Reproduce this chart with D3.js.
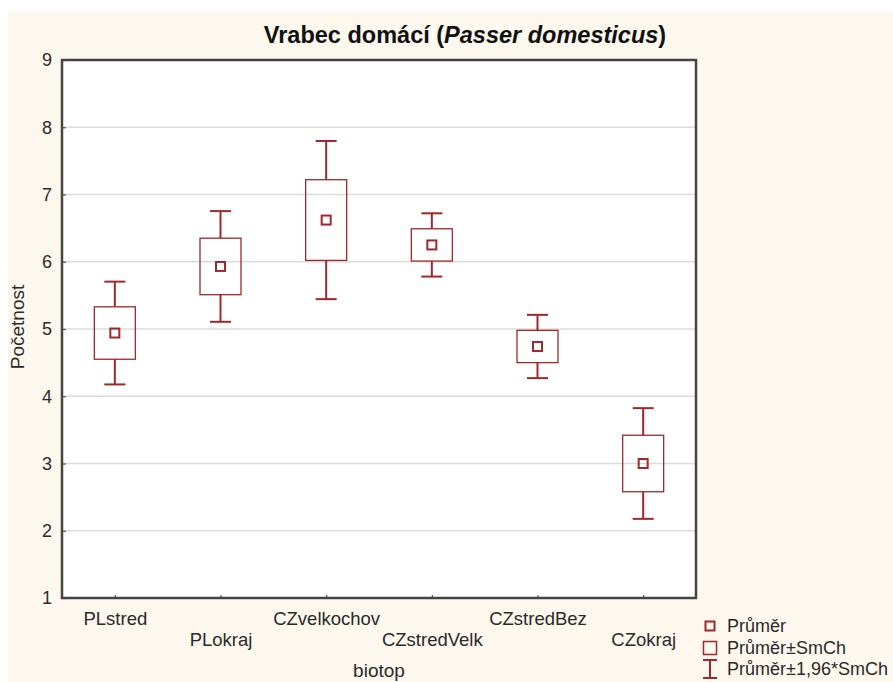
<!DOCTYPE html>
<html>
<head>
<meta charset="utf-8">
<script src="https://cdn.jsdelivr.net/npm/d3@7/dist/d3.min.js"></script>
<style>
  html, body { margin: 0; padding: 0; background: #ffffff; overflow: hidden; }
  svg { display: block; font-family: "Liberation Sans", Arial, sans-serif; }
</style>
</head>
<body>
<svg id="chart" width="893" height="682"></svg>
<script>
// Mean counts per habitat, with standard errors
const categories = ["PLstred", "PLokraj", "CZvelkochov", "CZstredVelk", "CZstredBez", "CZokraj"];
const means = [4.94, 5.93, 6.62, 6.25, 4.74, 3.00];
const stdErrors = [0.39, 0.42, 0.60, 0.24, 0.24, 0.42];
const yTicks = [1, 2, 3, 4, 5, 6, 7, 8, 9];
const legendLabels = ["Průměr", "Průměr±SmCh", "Průměr±1,96*SmCh"];

const W = 893, H = 682;
const margin = { left: 62, right: 696, top: 60, bottom: 598 };
const red = "#a0282c";
const textColor = "#2a2a2a";

const svg = d3.select("#chart");

// Page background
svg.append("rect").attr("x", 8).attr("y", 12).attr("width", W - 8).attr("height", H - 12)
  .attr("fill", "#fdf8ee");

const x = d3.scalePoint().domain(categories).range([margin.left, margin.right]).padding(0.5);
const y = d3.scaleLinear().domain([1, 9]).range([margin.bottom, margin.top]);

// Plot area
svg.append("rect")
  .attr("x", margin.left).attr("y", margin.top)
  .attr("width", margin.right - margin.left).attr("height", margin.bottom - margin.top)
  .attr("fill", "#ffffff");

// Horizontal grid lines
svg.append("g").selectAll("line").data(yTicks.slice(1, -1)).join("line")
  .attr("x1", margin.left).attr("x2", margin.right)
  .attr("y1", d => y(d)).attr("y2", d => y(d))
  .attr("stroke", "#dcdcdc").attr("stroke-width", 1.5);

// Y axis
const yAxis = svg.append("g").attr("transform", `translate(${margin.left},0)`)
  .call(d3.axisLeft(y).tickValues(yTicks).tickSize(-4).tickPadding(10).tickFormat(d3.format("d")));
yAxis.select(".domain").remove();
yAxis.selectAll(".tick line").attr("stroke", "#555").attr("stroke-width", 1.2);
yAxis.selectAll(".tick text").attr("font-size", 18).attr("fill", textColor)
  .attr("font-family", "Liberation Sans, Arial, sans-serif");

// X axis with staggered labels
const xAxis = svg.append("g").attr("transform", `translate(0,${margin.bottom})`)
  .call(d3.axisBottom(x).tickSize(-3).tickPadding(0));
xAxis.select(".domain").remove();
xAxis.selectAll(".tick line").attr("stroke", "#555").attr("stroke-width", 1.2);
xAxis.selectAll(".tick text")
  .attr("font-size", 18.5).attr("fill", textColor)
  .attr("font-family", "Liberation Sans, Arial, sans-serif")
  .attr("dy", null)
  .attr("y", (d, i) => i % 2 === 0 ? 27 : 48);

// Plot frame
svg.append("rect")
  .attr("x", margin.left).attr("y", margin.top)
  .attr("width", margin.right - margin.left).attr("height", margin.bottom - margin.top)
  .attr("fill", "none").attr("stroke", "#444").attr("stroke-width", 2.5);

// Boxes: mean ± SE, whiskers: mean ± 1.96*SE
const data = categories.map((c, i) => ({ c, m: means[i], se: stdErrors[i] }));
const g = svg.append("g");
const boxW = 41, capW = 21, meanS = 9;

const item = g.selectAll("g.item").data(data).join("g").attr("class", "item");
item.append("line")
  .attr("x1", d => x(d.c)).attr("x2", d => x(d.c))
  .attr("y1", d => y(d.m + 1.96 * d.se)).attr("y2", d => y(d.m + d.se))
  .attr("stroke", red).attr("stroke-width", 2);
item.append("line")
  .attr("x1", d => x(d.c)).attr("x2", d => x(d.c))
  .attr("y1", d => y(d.m - d.se)).attr("y2", d => y(d.m - 1.96 * d.se))
  .attr("stroke", red).attr("stroke-width", 2);
item.append("line")
  .attr("x1", d => x(d.c) - capW / 2).attr("x2", d => x(d.c) + capW / 2)
  .attr("y1", d => y(d.m + 1.96 * d.se)).attr("y2", d => y(d.m + 1.96 * d.se))
  .attr("stroke", red).attr("stroke-width", 2);
item.append("line")
  .attr("x1", d => x(d.c) - capW / 2).attr("x2", d => x(d.c) + capW / 2)
  .attr("y1", d => y(d.m - 1.96 * d.se)).attr("y2", d => y(d.m - 1.96 * d.se))
  .attr("stroke", red).attr("stroke-width", 2);
item.append("rect")
  .attr("x", d => x(d.c) - boxW / 2).attr("width", boxW)
  .attr("y", d => y(d.m + d.se)).attr("height", d => y(d.m - d.se) - y(d.m + d.se))
  .attr("fill", "none").attr("stroke", red).attr("stroke-width", 1.3);
item.append("rect")
  .attr("x", d => x(d.c) - meanS / 2).attr("width", meanS)
  .attr("y", d => y(d.m) - meanS / 2).attr("height", meanS)
  .attr("fill", "none").attr("stroke", red).attr("stroke-width", 2);

// Title
const title = svg.append("text").attr("x", 465).attr("y", 43)
  .attr("text-anchor", "middle").attr("font-size", 23.5).attr("font-weight", "bold").attr("fill", "#111");
title.append("tspan").text("Vrabec domácí (");
title.append("tspan").attr("font-style", "italic").text("Passer domesticus");
title.append("tspan").text(")");

// Axis titles
svg.append("text").attr("x", 379).attr("y", 677).attr("text-anchor", "middle")
  .attr("font-size", 19).attr("fill", textColor).text("biotop");
svg.append("text").attr("transform", `translate(24,${(margin.top + margin.bottom) / 2 - 2}) rotate(-90)`)
  .attr("text-anchor", "middle").attr("font-size", 19).attr("fill", textColor).text("Početnost");

// Legend
const leg = svg.append("g").attr("transform", "translate(710,0)");
const rowsY = [626, 648, 669];
leg.append("rect").attr("x", -4.5).attr("y", rowsY[0] - 4.5).attr("width", 9).attr("height", 9)
  .attr("fill", "none").attr("stroke", red).attr("stroke-width", 2);
leg.append("rect").attr("x", -6.5).attr("y", rowsY[1] - 6.5).attr("width", 13).attr("height", 13)
  .attr("fill", "none").attr("stroke", red).attr("stroke-width", 1.5);
leg.append("line").attr("x1", 0).attr("x2", 0).attr("y1", rowsY[2] - 9).attr("y2", rowsY[2] + 9)
  .attr("stroke", red).attr("stroke-width", 2);
leg.append("line").attr("x1", -7).attr("x2", 7).attr("y1", rowsY[2] - 9).attr("y2", rowsY[2] - 9)
  .attr("stroke", red).attr("stroke-width", 2);
leg.append("line").attr("x1", -7).attr("x2", 7).attr("y1", rowsY[2] + 9).attr("y2", rowsY[2] + 9)
  .attr("stroke", red).attr("stroke-width", 2);
leg.selectAll("text.lg").data(legendLabels).join("text").attr("class", "lg")
  .attr("x", 17).attr("y", (d, i) => rowsY[i] + 6)
  .attr("font-size", 18).attr("fill", textColor).text(d => d);
</script>
</body>
</html>
